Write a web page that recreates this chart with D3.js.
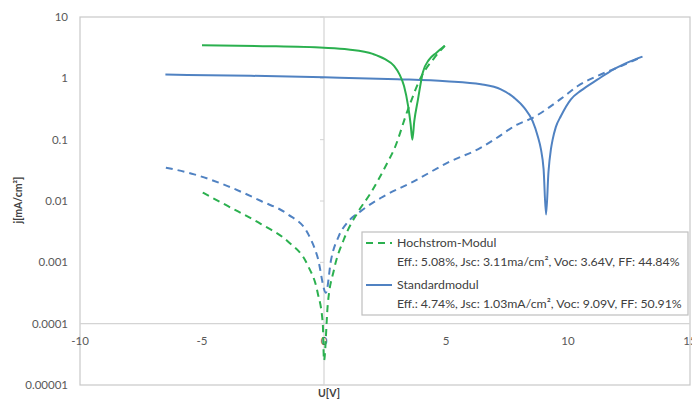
<!DOCTYPE html>
<html><head><meta charset="utf-8">
<script src="https://cdn.jsdelivr.net/npm/d3@7/dist/d3.min.js"></script>
<style>body{margin:0;background:#fff}svg{display:block}text{font-family:Lato,"Open Sans",sans-serif}</style>
</head><body><svg id="c" width="692" height="400"></svg>
<script>
const yTicks = [10, 1, 0.1, 0.01, 0.001, 0.0001, 0.00001];
const yTickLabels = ["10", "1", "0.1", "0.01", "0.001", "0.0001", "0.00001"];
const xTicks = [-10, -5, 0, 5, 10, 15];
const xTickLabels = ["-10", "-5", "0", "5", "10", "15"];

const hochLightU = [-5, -2.5, 0, 1, 2, 2.5, 2.87, 3.1, 3.28, 3.45, 3.55, 3.62, 3.7, 3.85, 4.05, 4.3, 4.6, 4.95];
const hochLightJ = [3.45, 3.35, 3.15, 2.95, 2.5, 2.05, 1.6, 1.15, 0.75, 0.35, 0.18, 0.1, 0.2, 0.45, 1.25, 2.0, 2.6, 3.4];
const stdLightU = [-6.5, -3, 0, 3, 5, 6.43, 7.25, 7.8, 8.21, 8.55, 8.76, 8.89, 9.0, 9.1, 9.2, 9.3, 9.37, 9.5, 9.71, 10.12, 10.53, 11.2, 11.87, 12.5, 13.05];
const stdLightJ = [1.15, 1.1, 1.04, 0.97, 0.9, 0.8, 0.66, 0.48, 0.33, 0.2, 0.114, 0.07, 0.033, 0.006, 0.03, 0.07, 0.1, 0.16, 0.243, 0.455, 0.63, 0.95, 1.4, 1.85, 2.26];
const stdDarkU = [-6.48, -5.32, -3.95, -2.58, -1.49, -0.67, -0.26, 0.08, 0.29, 0.61, 0.97, 1.52, 2.34, 3.7, 5.07, 6.43, 6.97, 7.94, 8.48, 9.85, 10.4, 11.2, 12.2, 13.05];
const stdDarkJ = [0.035, 0.0272, 0.0175, 0.01, 0.0061, 0.003, 0.0012, 0.00032, 0.0011, 0.0027, 0.0045, 0.0069, 0.0113, 0.0211, 0.0422, 0.074, 0.1, 0.178, 0.22, 0.51, 0.75, 1.09, 1.6, 2.26];
const hochDarkU = [-4.97, -3.95, -2.58, -1.49, -0.67, -0.26, -0.05, 0.0, 0.15, 0.41, 0.82, 1.38, 1.93, 2.61, 2.87, 3.44, 4.0, 4.5, 4.95];
const hochDarkJ = [0.0137, 0.0083, 0.0042, 0.0022, 0.0009, 0.00032, 0.0001, 0.000025, 0.000195, 0.00076, 0.0024, 0.0065, 0.0138, 0.043, 0.069, 0.31, 1.09, 2.1, 3.4];

const legendNames = ["Hochstrom-Modul", "Standardmodul"];
const legendInfo = ["Eff.: 5.08%, Jsc: 3.11ma/cm², Voc: 3.64V, FF: 44.84%", "Eff.: 4.74%, Jsc: 1.03mA/cm², Voc: 9.09V, FF: 50.91%"];

const green = "#2bb04f", blue = "#5082c2";
const svg = d3.select("#c");
const x = d3.scaleLinear().domain([-10, 15]).range([80, 690]);
const y = d3.scaleLog().domain([0.00001, 10]).range([385, 17]);

// plot frame
svg.append("rect").attr("x", 80).attr("y", 17).attr("width", 610).attr("height", 368)
  .attr("fill", "none").attr("stroke", "#c8c8c8").attr("stroke-width", 1.2);

// axes lines
svg.append("line").attr("x1", x(-10)).attr("x2", x(15)).attr("y1", y(0.0001)).attr("y2", y(0.0001))
  .attr("stroke", "#d4d4d4").attr("stroke-width", 1.2);
svg.append("line").attr("x1", x(0)).attr("x2", x(0)).attr("y1", y(10)).attr("y2", y(0.00001))
  .attr("stroke", "#d4d4d4").attr("stroke-width", 1.2);
svg.selectAll(".yt").data(yTicks).join("line")
  .attr("x1", x(0) - 4).attr("x2", x(0)).attr("y1", d => y(d)).attr("y2", d => y(d))
  .attr("stroke", "#d4d4d4").attr("stroke-width", 1);

// y tick labels
svg.selectAll(".yl").data(yTicks).join("text")
  .attr("x", 68).attr("y", d => y(d) + 4).attr("text-anchor", "end")
  .attr("font-size", 11.5).attr("fill", "#595959")
  .text((d, i) => yTickLabels[i]);
// x tick labels
svg.selectAll(".xl").data(xTicks).join("text")
  .attr("x", d => x(d)).attr("y", y(0.0001) + 21).attr("text-anchor", "middle")
  .attr("font-size", 11.5).attr("fill", "#595959")
  .text((d, i) => xTickLabels[i]);

// axis titles
svg.append("text").attr("transform", "translate(22,200) rotate(-90)").attr("text-anchor", "middle")
  .attr("font-size", 10.5).attr("font-weight", "bold").attr("fill", "#404040").text("j[mA/cm²]");
svg.append("text").attr("x", 329).attr("y", 397).attr("text-anchor", "middle")
  .attr("font-size", 10.5).attr("font-weight", "bold").attr("fill", "#404040").text("U[V]");

const line = d3.line().x(d => x(d[0])).y(d => y(d[1])).curve(d3.curveMonotoneX);
function draw(U, J, color, dashed) {
  const p = svg.append("path").datum(U.map((u, i) => [u, J[i]])).attr("d", line)
    .attr("fill", "none").attr("stroke", color).attr("stroke-width", 2);
  if (dashed) p.attr("stroke-dasharray", "7,5");
}
draw(stdDarkU, stdDarkJ, blue, true);
draw(hochDarkU, hochDarkJ, green, true);
draw(stdLightU, stdLightJ, blue, false);
draw(hochLightU, hochLightJ, green, false);

// legend
const lg = svg.append("g");
lg.append("rect").attr("x", 362).attr("y", 232).attr("width", 326).attr("height", 83)
  .attr("fill", "#fff").attr("stroke", "#bfbfbf").attr("stroke-width", 1.2);
const lgColors = [green, blue], lgDash = ["7,5", null];
legendNames.forEach((n, i) => {
  const cy = 243 + i * 42;
  const l = lg.append("line").attr("x1", 366).attr("x2", 392).attr("y1", cy).attr("y2", cy)
    .attr("stroke", lgColors[i]).attr("stroke-width", 2);
  if (lgDash[i]) l.attr("stroke-dasharray", lgDash[i]);
  lg.append("text").attr("x", 397).attr("y", cy + 4).attr("font-size", 12.3).attr("fill", "#404040").text(n);
  lg.append("text").attr("x", 397).attr("y", cy + 23).attr("font-size", 12.3).attr("fill", "#404040").text(legendInfo[i]);
});
</script></body></html>
